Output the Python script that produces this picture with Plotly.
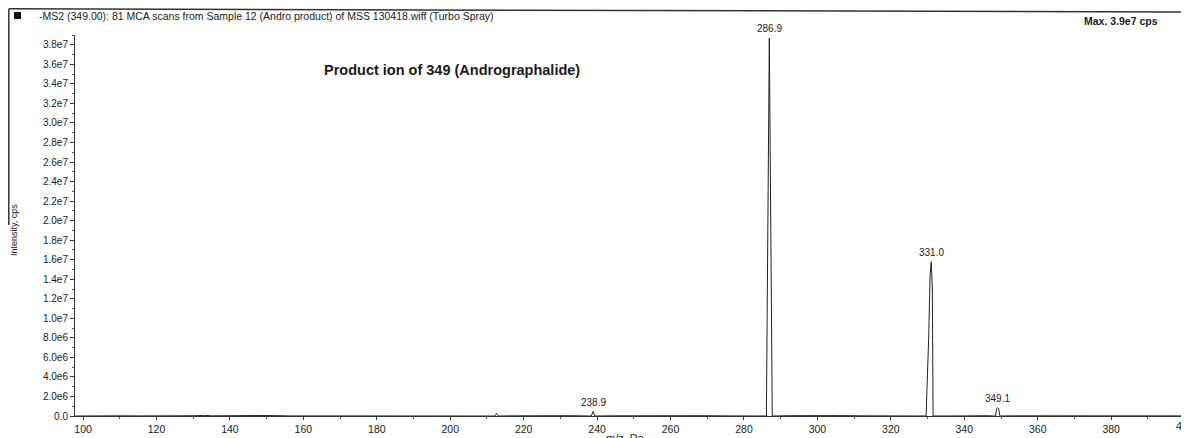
import plotly.graph_objects as go

# ---- data ----
mz = [97.9, 103, 107, 110, 115, 119, 121, 125, 131, 133, 135, 141, 146, 150, 156, 162, 168, 171, 176,
      182, 188, 195, 201, 207, 212.1, 212.6, 213.1, 218, 224, 229, 233, 238.4, 238.7, 238.9, 239.1, 239.4,
      244, 250, 254, 258, 264, 270, 276, 282, 286.1, 286.9, 287.7, 292, 298, 302, 306, 312, 318, 324,
      329.6, 330.3, 330.7, 331.0, 331.3, 331.5, 334, 340, 346, 348.5, 348.8, 349.1, 349.4, 349.7, 354,
      360, 366, 372, 378, 384, 390, 396, 401]
intensity = [0, 3e4, 6e4, 2e4, 1e4, 4e4, 5e4, 2e4, 3e4, 7e4, 2e4, 4e4, 2e4, 5e4, 1e4, 1e4, 2e4, 3e4, 1e4,
             3e4, 1e4, 2e4, 1e4, 2e4, 0, 2.6e5, 0, 2e4, 4e4, 1e4, 3e4, 0, 3.5e5, 4.6e5, 3.0e5, 0,
             2e4, 3e4, 8e4, 4e4, 2e4, 3e4, 1e4, 2e4, 0, 3.87e7, 0, 3e4, 5e4, 7e4, 4e4, 2e4, 3e4, 1e4,
             0, 8.0e6, 1.45e7, 1.58e7, 1.3e7, 0, 2e4, 1e4, 3e4, 0, 7.5e5, 8.5e5, 7.0e5, 0, 2e4,
             1e4, 3e4, 1e4, 2e4, 1e4, 3e4, 1e4, 2e4]

peak_mz = [238.9, 286.9, 331.0, 349.1]
peak_int = [4.6e5, 3.87e7, 1.58e7, 8.5e5]
peak_labels = ["238.9", "286.9", "331.0", "349.1"]

x_ticks = list(range(100, 401, 20))
y_ticks = [i * 2e6 for i in range(20)]
y_tick_text = ["0.0"] + [("%.1fe6" % (v / 1e6)) if v < 1e7 else ("%.1fe7" % (v / 1e7)) for v in y_ticks[1:]]

header = "-MS2 (349.00): 81 MCA scans from Sample 12 (Andro product) of MSS 130418.wiff (Turbo Spray)"
max_text = "Max. 3.9e7 cps"
chart_title = "Product ion of 349 (Andrographalide)"

# ---- layout geometry (page body has an 8px margin; coordinates below are window pixels) ----
OFF = 8
W, H = 1189 - OFF, 438 - OFF
ML, MT = 75 - OFF, 35 - OFF
PLOT_BOTTOM = 416 - OFF
MB = H - PLOT_BOTTOM
MR = 0
PW, PH = W - ML - MR, H - MT - MB

def px(x):
    return (x - OFF - ML) / PW

def py(y):
    return (PLOT_BOTTOM - (y - OFF)) / PH

FONT = "Liberation Sans, Arial, sans-serif"
TXT = "#1a1a1a"

fig = go.Figure()
fig.add_trace(go.Scatter(x=mz, y=intensity, mode="lines",
                         line=dict(color="#222", width=1), hoverinfo="skip", showlegend=False))

for m, v, t in zip(peak_mz, peak_int, peak_labels):
    fig.add_annotation(x=m, y=v, text=t, showarrow=False, yanchor="bottom", yshift=2,
                       font=dict(size=10, color=TXT, family=FONT))

# last x tick label, which the reference shows cut at the right edge
last_tick = x_ticks[-1]
fig.add_annotation(x=last_tick, xref="x", y=py(426), yref="paper", text=str(last_tick), showarrow=False,
                   xanchor="center", yanchor="middle", font=dict(size=10.5, color=TXT, family=FONT))

# header and texts
fig.add_annotation(x=px(37), y=py(16), xref="paper", yref="paper", text=header, showarrow=False,
                   xanchor="left", yanchor="middle", font=dict(size=10.5, color=TXT, family=FONT))
fig.add_annotation(x=px(1082), y=py(21), xref="paper", yref="paper", text="<b>" + max_text + "</b>",
                   showarrow=False, xanchor="left", yanchor="middle",
                   font=dict(size=10.5, color=TXT, family=FONT))
fig.add_annotation(x=px(452), y=py(70), xref="paper", yref="paper", text="<b>" + chart_title + "</b>",
                   showarrow=False, xanchor="center", yanchor="middle",
                   font=dict(size=14.5, color=TXT, family=FONT))
fig.add_annotation(x=px(14), y=py(230), xref="paper", yref="paper", text="Intensity, cps",
                   showarrow=False, textangle=-90, xanchor="center", yanchor="middle",
                   font=dict(size=9, color=TXT, family=FONT))
fig.add_annotation(x=px(625), y=py(438), xref="paper", yref="paper", text="m/z, Da",
                   showarrow=False, xanchor="center", yanchor="middle",
                   font=dict(size=11, color=TXT, family=FONT))

# frame lines and header square
fig.add_shape(type="line", xref="paper", yref="paper", x0=px(9), y0=py(8.8), x1=px(1189), y1=py(12),
              line=dict(color="#333", width=1.5))
fig.add_shape(type="line", xref="paper", yref="paper", x0=px(8.8), y0=py(8.8), x1=px(8.8), y1=py(225),
              line=dict(color="#333", width=1.5))
fig.add_shape(type="rect", xref="paper", yref="paper", x0=px(14), y0=py(12), x1=px(21), y1=py(19),
              fillcolor="#111", line=dict(width=0))

fig.update_layout(
    width=W, height=H, margin=dict(l=ML, r=MR, t=MT, b=MB),
    paper_bgcolor="white", plot_bgcolor="white",
    font=dict(family=FONT, color=TXT, size=10),
    xaxis=dict(range=[97.8, 401.2], tickvals=x_ticks, ticktext=[str(v) for v in x_ticks],
               showgrid=False, zeroline=False, showline=True, linecolor="#333", linewidth=1,
               ticks="outside", ticklen=3, tickcolor="#333", tickfont=dict(size=10.5, color=TXT),
               minor=dict(dtick=10, tick0=100, ticks="outside", ticklen=2, tickcolor="#555")),
    yaxis=dict(range=[0, 3.9e7], tickvals=y_ticks, ticktext=y_tick_text,
               showgrid=False, zeroline=False, showline=True, linecolor="#333", linewidth=1,
               ticks="outside", ticklen=4, tickcolor="#333", tickfont=dict(size=10, color=TXT),
               minor=dict(dtick=1e6, tick0=0, ticks="outside", ticklen=2, tickcolor="#555")),
)

fig.write_html("out.html")
